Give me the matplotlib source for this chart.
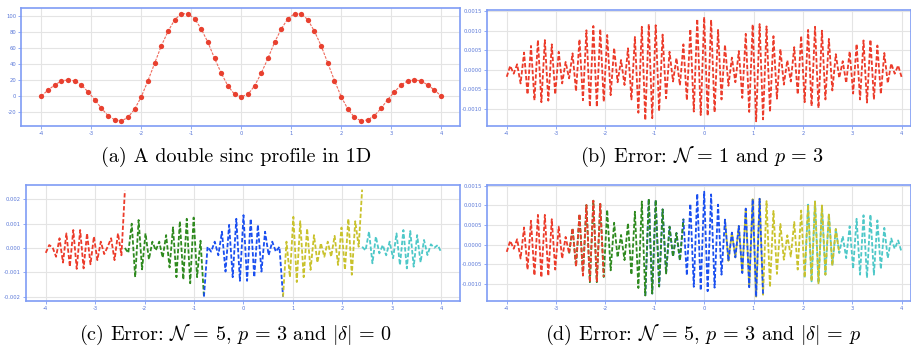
import numpy as np
import matplotlib.pyplot as plt
from matplotlib.ticker import FormatStrFormatter

plt.rcParams['axes.unicode_minus'] = False
plt.rcParams['mathtext.fontset'] = 'cm'

# (a) double sinc profile, sampled nodes
profile = [0, 7.5, 13.8, 18.9, 20.1, 18.9, 13.8, 5.0, -4.6, -15.5, -24.7, -30.0, -31.4, -26.8, -16.4, -0.8,
           19.3, 41.1, 62.9, 80.9, 95.6, 103.1, 103.1, 96.9, 83.9, 67.1, 47.0, 28.5, 12.6, 2.0, -0.8,
           2.0, 12.6, 28.5, 47.0, 67.1, 83.9, 96.9, 103.1, 103.1, 95.6, 80.9, 62.9, 41.1, 19.3, -0.8,
           -16.4, -26.8, -31.4, -30.0, -24.7, -15.5, -4.6, 5.0, 13.8, 18.9, 20.1, 18.9, 13.8, 7.5, 0]

# (b) error, N=1 and p=3 (extrema, units of 1e-4)
err_b = [-1.8, 1.0, -1.0, 1.4, -3.5, 4.4, -6.3, 6.1, -7.8, 7.6, -8.3, 7.6, -7.9, 6.5, -6.3, 4.6,
         -3.5, 2.0, -2.2, 4.2, -5.5, 7.8, -7.8, 10.1, -9.5, 11.2, -9.5, 10.4, -8.2, 8.9, -6.5, 5.6,
         -3.2, 2.5, -3.9, 5.5, -7.6, 8.4, -11.0, 11.0, -12.9, 11.7, -12.4, 11.4, -10.6, 9.0, -7.3,
         4.6, -3.0, 3.0, -4.0, 6.5, -7.8, 10.4, -10.7, 13.0, -11.6, 13.5,
         -11.8, 12.8, -10.9, 10.2, -7.6, 6.4, -4.1, 3.1, -3.2, 4.8, -7.2, 9.2, -10.8, 11.6, -13.2,
         11.7, -12.7, 11.1, -10.8, 8.6, -7.4, 5.3, -3.8, 2.4, -3.0, 5.8, -6.3, 8.7, -8.3, 10.2,
         -9.3, 11.0, -9.8, 10.0, -7.6, 7.9, -5.3, 4.0, -2.1, 2.2, -3.4, 4.7, -6.1, 6.6, -7.6, 7.5,
         -8.4, 7.7, -7.6, 6.2, -6.2, 4.3, -3.4, 1.6, -1.0, 1.1, -1.9]

# (c) error, N=5, p=3, |delta|=0 : one list per patch (units of 1e-4)
c_red = [-2.0, 1.2, 0.2, -3.6, 4.0, -6.0, 6.0, -7.7, 7.4, -8.6, 7.4, -8.4, 6.0, -6.7, 4.7, -5.0,
         2.6, -2.5, 0.5, 4.0, -5.0, 6.0, -3.0, 23.5]
c_green = [0.0, -2.0, 10.0, -12.0, 11.5, -8.8, 6.0, -4.7, 2.6, -1.0, 2.6, -4.0, 5.3, -8.0, 8.5,
           -12.0, 11.0, -13.0, 12.0, -14.5, 12.5, -12.0, 3.0, -20.0]
c_blue = [-20.0, 0.5, -1.5, 2.6, -3.0, 6.7, -9.7, 9.5, -12.0, 12.0, -13.5, 13.5, -13.5, 12.0,
          -12.0, 9.5, -9.7, 6.7, -3.0, 2.6, -1.5, 0.5, -20.0]
c_yellow = [-20.0, 2.6, -12.0, 12.8, -14.0, 11.0, -12.0, 8.0, -9.0, 5.3, -6.0, 2.0, -3.6, 2.6,
            -3.6, 5.0, -7.0, 8.4, -9.0, 12.0, -11.0, 11.0, 0.5, 24.0]
c_cyan = [0.5, -1.0, 6.7, -6.3, 4.7, -2.2, 1.2, -3.0, 2.6, -4.2, 6.0, -7.0, 7.4, -8.4, 7.0, -7.7,
          5.3, -5.9, 3.3, -2.9, 1.5, 0.1, 1.2, -1.8]
c_bounds = [-4.0, -2.4, -0.8, 0.8, 2.4, 4.0]

# (d) error, N=5, p=3, |delta|=p : same error curve, overlapping patches
err_d = err_b
d_patches = [(-4.0, -2.0), (-2.8, -0.4), (-1.2, 1.2), (0.4, 2.8), (2.0, 4.0)]

patch_colors = ['#ec3b2a', '#2f8a1f', '#1a4ff0', '#c9c22c', '#4ec8c8']

captions = ["(a) A double sinc profile in 1D",
            r"(b) Error: $\mathcal{N}\,=\,1$ and $p\,=\,3$",
            r"(c) Error: $\mathcal{N}\,=\,5$, $p\,=\,3$ and $|\delta|\,=\,0$",
            r"(d) Error: $\mathcal{N}\,=\,5$, $p\,=\,3$ and $|\delta|\,=\,p$"]

W, H = 912, 352
fig = plt.figure(figsize=(W / 100, H / 100), dpi=100)


def frame(left, top, right, bottom):
    ax = fig.add_axes([left / W, 1 - bottom / H, (right - left) / W, (bottom - top) / H])
    for s in ax.spines.values():
        s.set_color('#7f9cf5')
        s.set_linewidth(1.2)
    ax.grid(True, color='#e4e4e4', linewidth=0.8)
    ax.set_axisbelow(True)
    ax.tick_params(colors='#7f9cf5', labelcolor='#5a78d8', labelsize=3.8, length=2,
                   width=0.6, pad=1.5)
    ax.set_xticks(range(-4, 5))
    return ax


dash = (0, (2.4, 1.2))

# (a)
ax = frame(21, 8, 460, 126)
xa = np.linspace(-4, 4, len(profile))
ax.plot(xa, profile, color='#ef6a5c', lw=0.8, ls=dash)
ax.plot(xa, profile, 'o', color='#e8402f', ms=3.8, mec='none')
ax.set_xlim(-4.41, 4.38)
ax.set_ylim(-37.7, 110.3)
ax.set_yticks(range(-20, 101, 20))

# (b)
ax = frame(487, 10, 911, 126)
xb = np.linspace(-4, 4, len(err_b))
ax.plot(xb, np.array(err_b) * 1e-4, color=patch_colors[0], lw=1.3, ls=dash)
ax.set_xlim(-4.40, 4.19)
ax.set_ylim(-0.00144, 0.00153)
ax.set_yticks([-0.001, -0.0005, 0, 0.0005, 0.001, 0.0015])
ax.yaxis.set_major_formatter(FormatStrFormatter('%.4f'))

# (c)
ax = frame(26, 185, 460, 301)
for i, seg in enumerate([c_red, c_green, c_blue, c_yellow, c_cyan]):
    xs = np.linspace(c_bounds[i], c_bounds[i + 1], len(seg))
    ax.plot(xs, np.array(seg) * 1e-4, color=patch_colors[i], lw=1.3, ls=dash)
ax.set_xlim(-4.40, 4.38)
ax.set_ylim(-0.00218, 0.00259)
ax.set_yticks([-0.002, -0.001, 0, 0.001, 0.002])
ax.yaxis.set_major_formatter(FormatStrFormatter('%.3f'))

# (d)
ax = frame(487, 185, 911, 301)
xd = np.linspace(-4, 4, len(err_d))
yd = np.array(err_d) * 1e-4
for i, (lo, hi) in enumerate(d_patches):
    m = (xd >= lo - 1e-9) & (xd <= hi + 1e-9)
    ax.plot(xd[m], yd[m], color=patch_colors[i], lw=1.3, ls=dash, zorder=10 - i)
ax.set_xlim(-4.40, 4.19)
ax.set_ylim(-0.00143, 0.00152)
ax.set_yticks([-0.001, -0.0005, 0, 0.0005, 0.001, 0.0015])
ax.yaxis.set_major_formatter(FormatStrFormatter('%.4f'))

# captions
for (cx, cy), txt in zip([(236, 157), (702, 157), (236, 335), (703, 335)], captions):
    fig.text(cx / W, 1 - cy / H, txt, ha='center', va='center', fontsize=14.5,
             family='cmr10')

fig.savefig('out.png', dpi=100, facecolor='white')
